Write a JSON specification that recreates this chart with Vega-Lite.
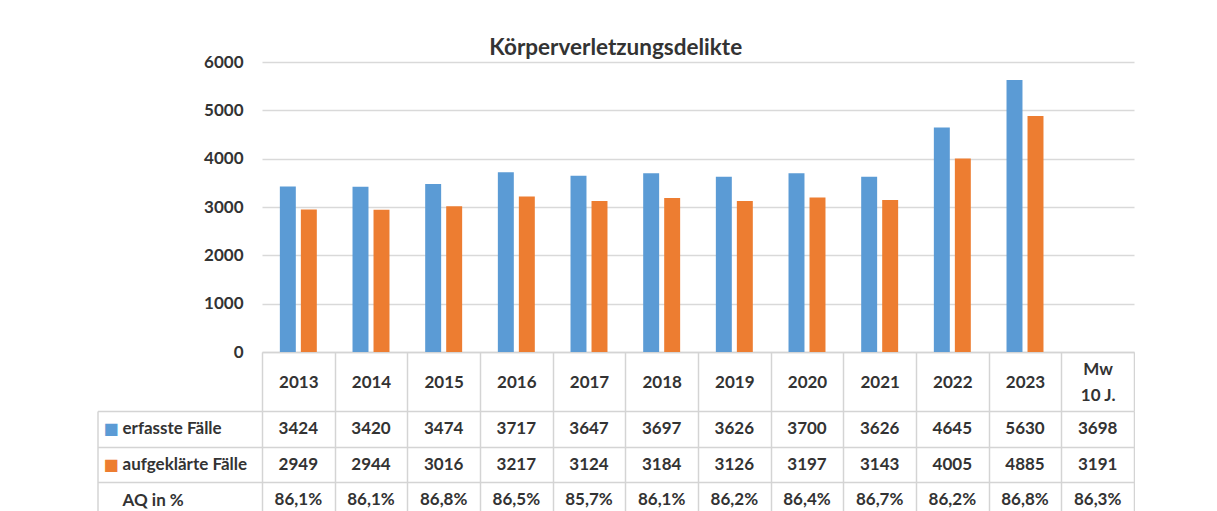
{
  "$schema": "https://vega.github.io/schema/vega-lite/v6.json",
  "background": "white",
  "padding": {"left": 96, "top": 36, "right": 0, "bottom": 0},
  "title": {
    "text": "Körperverletzungsdelikte",
    "font": "Lato",
    "fontSize": 22.5,
    "fontWeight": "bold",
    "color": "#333333",
    "anchor": "middle",
    "frame": "bounds",
    "baseline": "top",
    "offset": -6
  },
  "datasets": {
    "tab": [
      {"year": "2013", "erfasst": 3424, "aufgeklaert": 2949, "aq": "86,1%"},
      {"year": "2014", "erfasst": 3420, "aufgeklaert": 2944, "aq": "86,1%"},
      {"year": "2015", "erfasst": 3474, "aufgeklaert": 3016, "aq": "86,8%"},
      {"year": "2016", "erfasst": 3717, "aufgeklaert": 3217, "aq": "86,5%"},
      {"year": "2017", "erfasst": 3647, "aufgeklaert": 3124, "aq": "85,7%"},
      {"year": "2018", "erfasst": 3697, "aufgeklaert": 3184, "aq": "86,1%"},
      {"year": "2019", "erfasst": 3626, "aufgeklaert": 3126, "aq": "86,2%"},
      {"year": "2020", "erfasst": 3700, "aufgeklaert": 3197, "aq": "86,4%"},
      {"year": "2021", "erfasst": 3626, "aufgeklaert": 3143, "aq": "86,7%"},
      {"year": "2022", "erfasst": 4645, "aufgeklaert": 4005, "aq": "86,2%"},
      {"year": "2023", "erfasst": 5630, "aufgeklaert": 4885, "aq": "86,8%"},
      {"year": "Mw 10 J.", "erfasst": 3698, "aufgeklaert": 3191, "aq": "86,3%"}
    ]
  },
  "spacing": 59,
  "bounds": "flush",
  "vconcat": [
    {
      "width": 872,
      "height": 290,
      "data": {"name": "tab"},
      "transform": [
        {"filter": "datum.year !== 'Mw 10 J.'"},
        {"fold": ["erfasst", "aufgeklaert"], "as": ["reihe", "wert"]}
      ],
      "mark": {"type": "bar"},
      "encoding": {
        "x": {
          "field": "year",
          "type": "nominal",
          "sort": null,
          "scale": {
            "domain": ["2013", "2014", "2015", "2016", "2017", "2018", "2019", "2020", "2021", "2022", "2023", "Mw 10 J."],
            "paddingInner": 0,
            "paddingOuter": 0
          },
          "axis": {
            "title": null,
            "orient": "bottom",
            "grid": false,
            "domain": true,
            "domainColor": "#d4d4d4",
            "domainWidth": 1.5,
            "ticks": true,
            "tickBand": "extent",
            "tickSize": 59,
            "tickColor": "#d4d4d4",
            "tickWidth": 1.5,
            "labelAngle": 0,
            "labelFont": "Lato",
            "labelFontSize": 17,
            "labelFontWeight": "bold",
            "labelColor": "#333333",
            "labelBaseline": "middle",
            "labelPadding": {"condition": {"test": "datum.value === 'Mw 10 J.'", "value": -42}, "value": -29},
            "labelLineHeight": 26,
            "labelExpr": "datum.value === 'Mw 10 J.' ? ['Mw', '10 J.'] : datum.label"
          }
        },
        "xOffset": {
          "field": "reihe",
          "type": "nominal",
          "sort": ["erfasst", "aufgeklaert"],
          "scale": {"paddingInner": 0.24, "paddingOuter": 0.85}
        },
        "y": {
          "field": "wert",
          "type": "quantitative",
          "scale": {"domain": [0, 6000], "nice": false},
          "axis": {
            "title": null,
            "values": [0, 1000, 2000, 3000, 4000, 5000, 6000],
            "format": "d",
            "domain": false,
            "ticks": false,
            "tickSize": 0,
            "labelPadding": 19,
            "labelFont": "Lato",
            "labelFontSize": 17,
            "labelFontWeight": "bold",
            "labelColor": "#333333",
            "grid": true,
            "gridColor": "#d9d9d9",
            "gridWidth": 1.5
          }
        },
        "color": {
          "field": "reihe",
          "type": "nominal",
          "scale": {"domain": ["erfasst", "aufgeklaert"], "range": ["#5B9BD5", "#ED7D31"]},
          "legend": null
        }
      }
    },
    {
      "width": 872,
      "height": 107,
      "data": {"name": "tab"},
      "transform": [
        {"fold": ["erfasst", "aufgeklaert", "aq"], "as": ["zeile", "inhalt"]}
      ],
      "layer": [
        {
          "mark": {"type": "text", "font": "Lato", "fontSize": 17, "fontWeight": "bold", "color": "#333333", "baseline": "middle"},
          "encoding": {
            "x": {
              "field": "year",
              "type": "nominal",
              "sort": null,
              "scale": {
                "domain": ["2013", "2014", "2015", "2016", "2017", "2018", "2019", "2020", "2021", "2022", "2023", "Mw 10 J."],
                "paddingInner": 0,
                "paddingOuter": 0
              },
              "axis": {
                "title": null,
                "labels": false,
                "ticks": false,
                "domain": false,
                "grid": true,
                "tickBand": "extent",
                "gridColor": "#d4d4d4",
                "gridWidth": 1.5
              }
            },
            "y": {
              "field": "zeile",
              "type": "nominal",
              "sort": null,
              "scale": {"domain": ["erfasst", "aufgeklaert", "aq"], "paddingInner": 0, "paddingOuter": 0},
              "axis": {
                "title": null,
                "orient": "left",
                "offset": 164.5,
                "domain": true,
                "domainColor": "#d4d4d4",
                "domainWidth": 1.5,
                "ticks": true,
                "tickBand": "extent",
                "tickSize": -164.5,
                "tickColor": "#d4d4d4",
                "tickWidth": 1.5,
                "grid": true,
                "gridColor": "#d4d4d4",
                "gridWidth": 1.5,
                "labelAlign": "left",
                "labelBaseline": "middle",
                "labelPadding": 140,
                "labelFont": "Lato",
                "labelFontSize": 17,
                "labelFontWeight": "bold",
                "labelColor": "#333333",
                "labelExpr": "datum.value === 'erfasst' ? 'erfasste Fälle' : datum.value === 'aufgeklaert' ? 'aufgeklärte Fälle' : datum.value === 'aq' ? 'AQ in %' : ''"
              }
            },
            "text": {"field": "inhalt", "type": "nominal"}
          }
        },
        {
          "mark": {"type": "text", "opacity": 0},
          "encoding": {
            "x": {"field": "year", "type": "nominal", "sort": null},
            "y": {
              "field": "zeile",
              "type": "nominal",
              "sort": null,
              "axis": {
                "title": null,
                "orient": "left",
                "offset": 164.5,
                "domain": false,
                "ticks": false,
                "tickSize": 0,
                "grid": false,
                "labelAlign": "left",
                "labelBaseline": "middle",
                "labelPadding": -5.5,
                "labelFont": "DejaVu Sans",
                "labelFontSize": 16,
                "labelColor": {"condition": {"test": "datum.value === 'erfasst'", "value": "#5B9BD5"}, "value": "#ED7D31"},
                "labelExpr": "datum.value === 'erfasst' || datum.value === 'aufgeklaert' ? '■' : ''"
              }
            },
            "text": {"field": "inhalt", "type": "nominal"}
          }
        }
      ],
      "resolve": {"axis": {"y": "independent"}}
    }
  ],
  "config": {
    "view": {"stroke": null}
  }
}
